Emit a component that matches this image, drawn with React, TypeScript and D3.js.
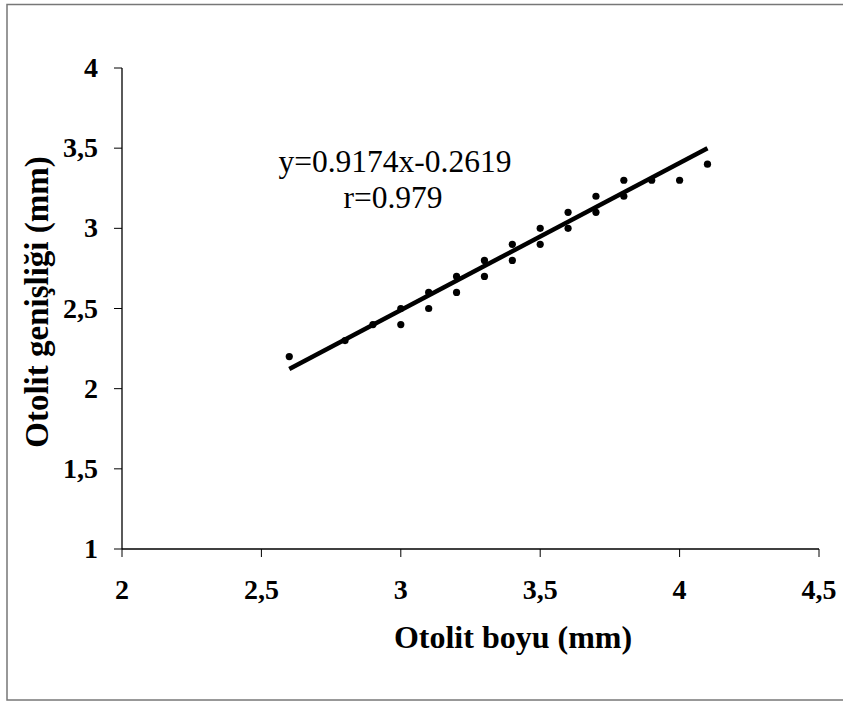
import React from "react";
import * as d3 from "d3";

// otolit boyu (mm) vs otolit genisligi (mm)
const lengths = [2.6, 2.8, 2.9, 3.0, 3.0, 3.1, 3.1, 3.2, 3.2, 3.3, 3.3, 3.4, 3.4, 3.5, 3.5, 3.6, 3.6, 3.7, 3.7, 3.8, 3.8, 3.9, 4.0, 4.1];
const widths = [2.2, 2.3, 2.4, 2.5, 2.4, 2.6, 2.5, 2.7, 2.6, 2.8, 2.7, 2.9, 2.8, 3.0, 2.9, 3.1, 3.0, 3.2, 3.1, 3.3, 3.2, 3.3, 3.3, 3.4];
const xTicks = [2, 2.5, 3, 3.5, 4, 4.5];
const yTicks = [1, 1.5, 2, 2.5, 3, 3.5, 4];
const slope = 0.9174;
const intercept = -0.2619;
const fitRange = [2.6, 4.1];

const fmt = (v: number) => String(v).replace(".", ",");

export default function App() {
  const width = 843;
  const height = 702;
  const serif = "'Liberation Serif', 'Times New Roman', serif";

  const x = d3.scaleLinear().domain([2, 4.5]).range([122, 819]);
  const y = d3.scaleLinear().domain([1, 4]).range([549, 68]);

  const points = lengths.map((l, i) => ({ l, w: widths[i] }));

  const fitLine = d3
    .line<number>()
    .x(d => x(d))
    .y(d => y(slope * d + intercept));

  return (
    <svg
      width={width}
      height={height}
      style={{ position: "absolute", left: 0, top: 0, background: "#fff" }}
    >
      <rect x={7} y={4.5} width={850} height={695.5} fill="none" stroke="#777" strokeWidth={1.5} />

      {/* axes */}
      <line x1={x(2)} x2={x(4.5)} y1={y(1)} y2={y(1)} stroke="#000" strokeWidth={1.3} />
      <line x1={x(2)} x2={x(2)} y1={y(1)} y2={y(4)} stroke="#000" strokeWidth={1.3} />

      {xTicks.map(t => (
        <g key={"x" + t}>
          <line x1={x(t)} x2={x(t)} y1={y(1)} y2={y(1) + 8} stroke="#000" strokeWidth={1} />
          <text
            x={x(t)}
            y={599}
            textAnchor="middle"
            fontFamily={serif}
            fontWeight="bold"
            fontSize={28}
          >
            {fmt(t)}
          </text>
        </g>
      ))}

      {yTicks.map(t => (
        <g key={"y" + t}>
          <line x1={x(2) - 8} x2={x(2)} y1={y(t)} y2={y(t)} stroke="#000" strokeWidth={1} />
          <text
            x={98}
            y={y(t) + 9}
            textAnchor="end"
            fontFamily={serif}
            fontWeight="bold"
            fontSize={28}
          >
            {fmt(t)}
          </text>
        </g>
      ))}

      {/* regression line */}
      <path d={fitLine(fitRange) ?? ""} fill="none" stroke="#000" strokeWidth={4.5} />

      {points.map((p, i) => (
        <circle key={i} cx={x(p.l)} cy={y(p.w)} r={3.6} fill="#000" />
      ))}

      <text x={395} y={172} textAnchor="middle" fontFamily={serif} fontSize={31.5}>
        y=0.9174x-0.2619
      </text>
      <text x={393} y={208} textAnchor="middle" fontFamily={serif} fontSize={31.5}>
        r=0.979
      </text>

      <text x={513} y={648} textAnchor="middle" fontFamily={serif} fontWeight="bold" fontSize={32}>
        Otolit boyu (mm)
      </text>
      <text
        transform={`translate(48, 302) rotate(-90)`}
        textAnchor="middle"
        fontFamily={serif}
        fontWeight="bold"
        fontSize={33}
      >
        Otolit genişliği (mm)
      </text>
    </svg>
  );
}
